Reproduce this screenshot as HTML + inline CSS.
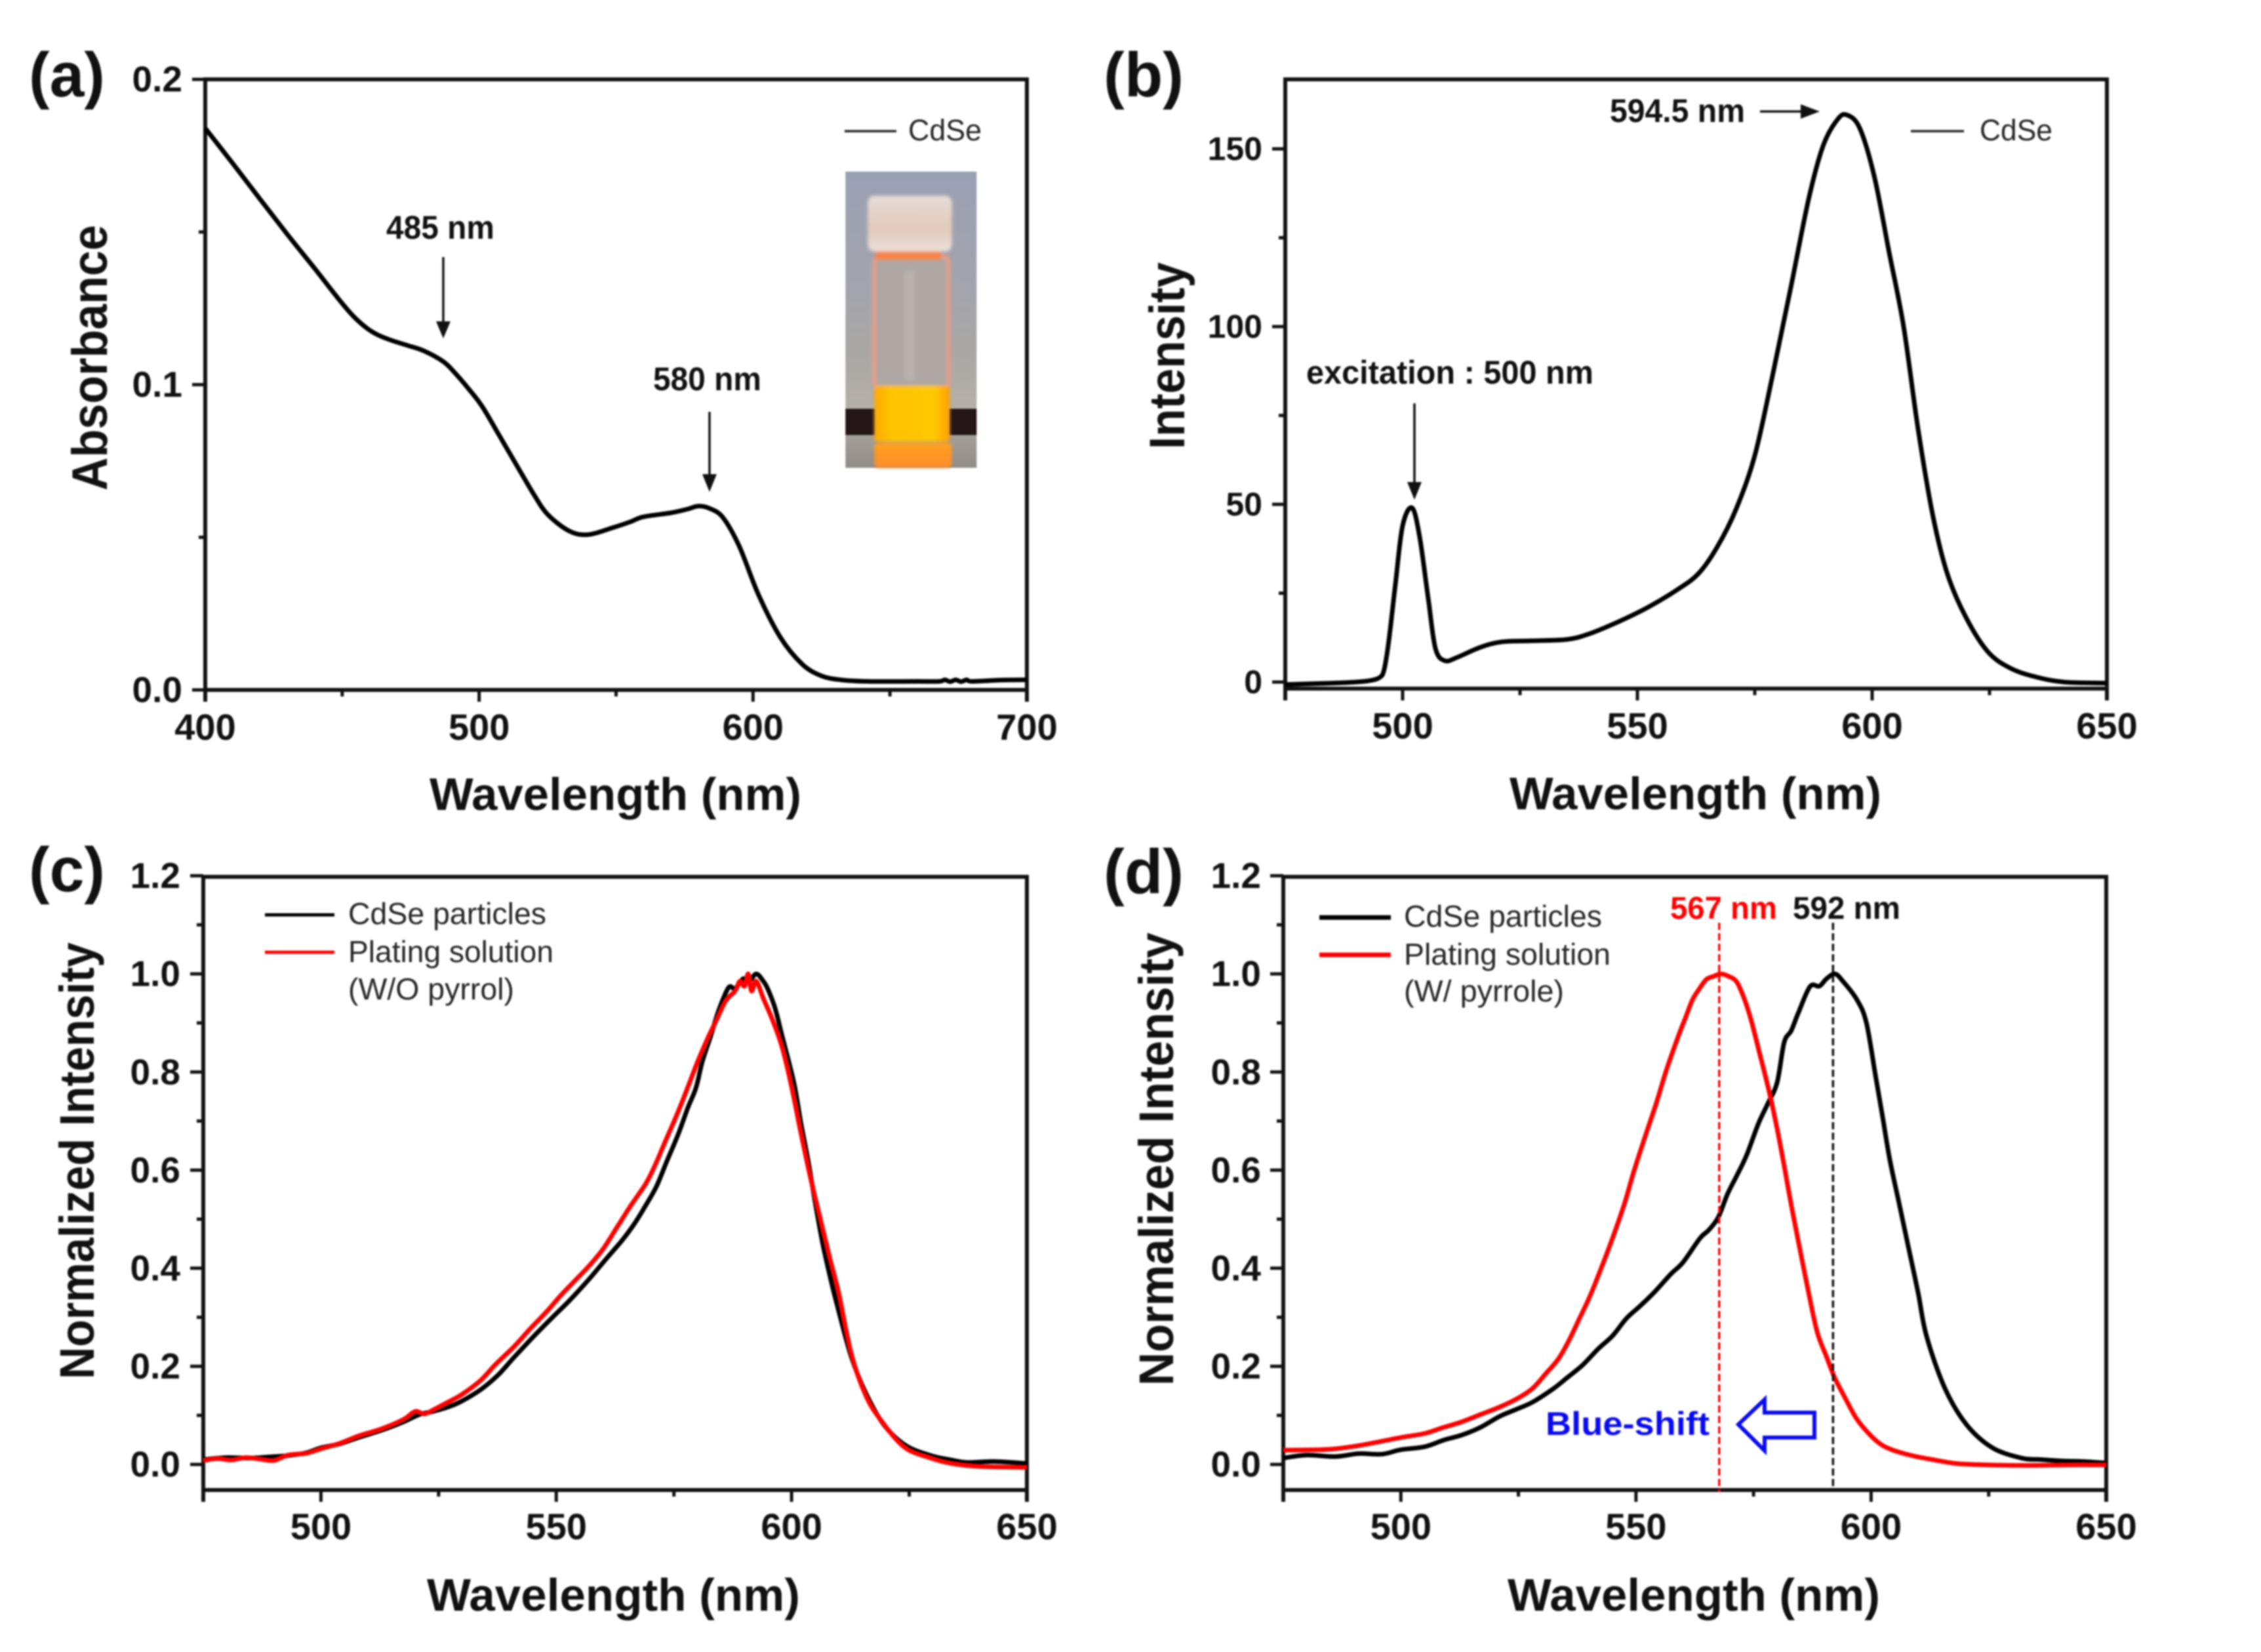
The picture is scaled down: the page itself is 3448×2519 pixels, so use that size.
<!DOCTYPE html>
<html lang="en">
<head>
<meta charset="utf-8">
<title>CdSe absorbance and photoluminescence spectra</title>
<style>
html,body{margin:0;padding:0;background:#fff;width:3448px;height:2519px;overflow:hidden}
svg{display:block;filter:blur(1.3px)}
text{font-family:"Liberation Sans",Arial,sans-serif;fill:#111}
.b{font-weight:700}
.leg{fill:#262626}
</style>
</head>
<body>
<svg id="figure" xmlns="http://www.w3.org/2000/svg" width="3448" height="2519" viewBox="0 0 3448 2519">
  <rect x="0" y="0" width="3448" height="2519" fill="#fff"/>
  <defs>
    <linearGradient id="insetBg" x1="0" y1="0" x2="0" y2="1">
      <stop offset="0" stop-color="#9aa0b3"/><stop offset=".35" stop-color="#a2a4ad"/>
      <stop offset=".6" stop-color="#a9a7a5"/><stop offset=".8" stop-color="#b4afa8"/><stop offset="1" stop-color="#8f8b88"/>
    </linearGradient>
    <linearGradient id="capFill" x1="0" y1="0" x2="0" y2="1">
      <stop offset="0" stop-color="#e6dcd6"/><stop offset=".6" stop-color="#e2c9bb"/><stop offset="1" stop-color="#eadfd8"/>
    </linearGradient>
    <linearGradient id="liquidFill" x1="0" y1="0" x2="1" y2="0">
      <stop offset="0" stop-color="#ffa800"/><stop offset=".2" stop-color="#ffc200"/><stop offset=".8" stop-color="#ffc800"/><stop offset="1" stop-color="#ff9f00"/>
    </linearGradient>
    <linearGradient id="reflectFill" x1="0" y1="0" x2="0" y2="1">
      <stop offset="0" stop-color="#ffa020"/><stop offset="1" stop-color="#ff8c28"/>
    </linearGradient>
    <filter id="soft" x="-5%" y="-5%" width="110%" height="110%"><feGaussianBlur stdDeviation="7"/></filter>
    <filter id="softer" x="-10%" y="-10%" width="120%" height="120%"><feGaussianBlur stdDeviation="14"/></filter>
  </defs>

  <!-- Panel a -->
  <g id="panel-a">
    <text class="b" x="44" y="147" font-size="96" textLength="116" lengthAdjust="spacingAndGlyphs">(a)</text>
    <text class="b" x="655" y="1235" font-size="70" textLength="567" lengthAdjust="spacingAndGlyphs">Wavelength (nm)</text>
    <text class="b" transform="translate(163,748) rotate(-90)" font-size="76" textLength="405" lengthAdjust="spacingAndGlyphs">Absorbance</text>
    <g transform="translate(1270,240) scale(0.3333)">
      <rect x="58" y="65" width="600" height="1355" fill="url(#insetBg)"/>
      <rect x="58" y="1150" width="135" height="120" fill="#241516"/>
      <rect x="533" y="1150" width="125" height="120" fill="#241516"/>
      <g filter="url(#soft)">
        <rect x="190" y="450" width="340" height="610" rx="30" fill="#aea7a3" stroke="#ee9c82" stroke-width="16"/>
        <rect x="195" y="410" width="300" height="60" fill="#f5854a"/>
        <rect x="160" y="175" width="385" height="255" rx="30" fill="url(#capFill)"/>
        <rect x="190" y="1045" width="345" height="255" rx="14" fill="url(#liquidFill)"/>
        <rect x="190" y="1305" width="355" height="115" rx="20" fill="url(#reflectFill)"/>
      </g>
      <g filter="url(#softer)">
        <rect x="330" y="520" width="45" height="500" fill="#bab3b0"/>
      </g>
    </g>
    <line x1="1288" y1="200" x2="1367" y2="200" stroke="#222" stroke-width="3.5"/>
    <text class="leg" x="1385" y="214" font-size="45" textLength="112" lengthAdjust="spacingAndGlyphs">CdSe</text>
    <text class="b" x="589" y="364" font-size="50" textLength="165" lengthAdjust="spacingAndGlyphs">485 nm</text>
    <line x1="676" y1="392" x2="676" y2="500" stroke="#111" stroke-width="3.5"/>
    <polygon points="665,490 687,490 676,516" fill="#111"/>
    <text class="b" x="996" y="595" font-size="50" textLength="165" lengthAdjust="spacingAndGlyphs">580 nm</text>
    <line x1="1082" y1="628" x2="1082" y2="733" stroke="#111" stroke-width="3.5"/>
    <polygon points="1071,723 1093,723 1082,750" fill="#111"/>
  </g>

  <!-- Panel b -->
  <g id="panel-b">
    <text class="b" x="1683" y="147" font-size="96" textLength="122" lengthAdjust="spacingAndGlyphs">(b)</text>
    <text class="b" x="2302" y="1234" font-size="70" textLength="567" lengthAdjust="spacingAndGlyphs">Wavelength (nm)</text>
    <text class="b" transform="translate(1806,685) rotate(-90)" font-size="76" textLength="285" lengthAdjust="spacingAndGlyphs">Intensity</text>
    <line x1="2914" y1="200" x2="2995" y2="200" stroke="#222" stroke-width="3.5"/>
    <text class="leg" x="3019" y="214" font-size="45" textLength="111" lengthAdjust="spacingAndGlyphs">CdSe</text>
    <text class="b" x="2455" y="186" font-size="50" textLength="206" lengthAdjust="spacingAndGlyphs">594.5 nm</text>
    <line x1="2684" y1="170" x2="2755" y2="170" stroke="#111" stroke-width="3.5"/>
    <polygon points="2746,159 2746,181 2775,170" fill="#111"/>
    <text class="b" x="1992" y="585" font-size="50" textLength="438" lengthAdjust="spacingAndGlyphs">excitation : 500 nm</text>
    <line x1="2157" y1="615" x2="2157" y2="745" stroke="#111" stroke-width="3.5"/>
    <polygon points="2146,735 2168,735 2157,762" fill="#111"/>
  </g>

  <!-- Panel c -->
  <g id="panel-c">
    <text class="b" x="44" y="1359" font-size="96" textLength="116" lengthAdjust="spacingAndGlyphs">(c)</text>
    <text class="b" x="651" y="2456" font-size="70" textLength="569" lengthAdjust="spacingAndGlyphs">Wavelength (nm)</text>
    <text class="b" transform="translate(143,2103) rotate(-90)" font-size="74" textLength="666" lengthAdjust="spacingAndGlyphs">Normalized Intensity</text>
    <line x1="404" y1="1395" x2="510" y2="1395" stroke="#000" stroke-width="5"/>
    <line x1="404" y1="1452" x2="510" y2="1452" stroke="#f00" stroke-width="5"/>
    <text class="leg" x="531" y="1409" font-size="46" textLength="302" lengthAdjust="spacingAndGlyphs">CdSe particles</text>
    <text class="leg" x="531" y="1467" font-size="46" textLength="313" lengthAdjust="spacingAndGlyphs">Plating solution</text>
    <text class="leg" x="531" y="1524" font-size="46" textLength="253" lengthAdjust="spacingAndGlyphs">(W/O pyrrol)</text>
  </g>

  <!-- Panel d -->
  <g id="panel-d">
    <text class="b" x="1683" y="1362" font-size="96" textLength="122" lengthAdjust="spacingAndGlyphs">(d)</text>
    <text class="b" x="2299" y="2456" font-size="70" textLength="568" lengthAdjust="spacingAndGlyphs">Wavelength (nm)</text>
    <text class="b" transform="translate(1789,2113) rotate(-90)" font-size="74" textLength="691" lengthAdjust="spacingAndGlyphs">Normalized Intensity</text>
    <line x1="2012" y1="1399" x2="2121" y2="1399" stroke="#000" stroke-width="7"/>
    <line x1="2012" y1="1456" x2="2121" y2="1456" stroke="#f00" stroke-width="7"/>
    <text class="leg" x="2141" y="1413" font-size="46" textLength="302" lengthAdjust="spacingAndGlyphs">CdSe particles</text>
    <text class="leg" x="2141" y="1471" font-size="46" textLength="315" lengthAdjust="spacingAndGlyphs">Plating solution</text>
    <text class="leg" x="2141" y="1527" font-size="46" textLength="244" lengthAdjust="spacingAndGlyphs">(W/ pyrrole)</text>
    <text class="b" x="2547" y="1401" font-size="48" textLength="163" lengthAdjust="spacingAndGlyphs" style="fill:#f00">567 nm</text>
    <text class="b" x="2734" y="1401" font-size="48" textLength="164" lengthAdjust="spacingAndGlyphs">592 nm</text>
    <text class="b" x="2357" y="2188" font-size="50" textLength="250" lengthAdjust="spacingAndGlyphs" style="fill:#0a0aee">Blue-shift</text>
    <polygon points="2651,2172 2691,2134 2691,2154 2767,2154 2767,2192 2691,2192 2691,2212" fill="#fff" stroke="#0a0aee" stroke-width="6"/>
  </g>
</svg>

<script>
// Panel a: absorbance
const aWavelengths = [400,410,420,430,440,449,454,459,463,468,474,480,487,491,496,501,507,515,520,525,533,540,549,555,560,570,576,580,584,589,595,602,610,618,625,632,642,660,668,670,672,674,676,678,680,690,700];
const aAbsorbance  = [.184,.1725,.1608,.1492,.138,.1277,.1225,.1185,.1163,.1145,.1128,.111,.1075,.104,.0988,.093,.0839,.0716,.064,.0575,.052,.0509,.0532,.055,.0567,.058,.0592,.0602,.0595,.0565,.047,.0312,.0172,.0084,.0046,.0033,.0028,.0028,.0028,.0033,.0027,.0033,.0027,.0033,.0028,.0032,.0033];
const aXTicks = [400,500,600,700];
const aXMinor = [450,550,650];
const aYTickLabels = ['0.0','0.1','0.2'];
const aYMinor = [.05,.15];

// Panel b: emission intensity
const bWavelengths = [475,485,490,493,495,496,497,498.5,500,502,503.6,505.5,507,509,511.7,516.4,521,527.3,535,539.8,546,552.2,558.5,563,567,571,575,578.8,582.6,586.5,589.6,592.7,594.7,597.4,600.5,603.6,606.7,609.8,612.9,616,619.9,624.6,629.3,634.7,640.9,650];
const bIntensity   = [-.7,-.3,0,.4,1.2,3.2,11,28,44,49,41,23,9.4,6,7,9.7,11.3,11.6,12,13.6,17,21,26,30.5,38,48.6,63.7,86.3,110.5,136,151,158.4,159.5,155.7,142,121,100,71,47,30.5,18.4,8.6,4,1.5,0,-.3];
const bXTicks = [500,550,600,650];
const bXMinor = [475,525,575,625];
const bYTickLabels = ['0','50','100','150'];
const bYMinor = [25,75,125];

// Panel c: normalized spectra without pyrrol
const cBlackWave = [475,480,485,490,493,497,500,504,508,513,517.6,521,523.8,527,529.9,534,537.6,541,545.2,549,552.9,557,560.6,564,566.7,569,571.3,573.5,575.9,578,579.7,581,582.8,584.5,586.6,588,589.7,591,592.5,594,595,596.5,598,600.5,602,603.5,605,606.6,608,609.7,612.7,615.8,619.6,624.2,629.6,634,637.3,643,650];
const cBlackVal  = [.010,.014,.013,.016,.018,.024,.034,.042,.055,.07,.087,.102,.108,.117,.129,.153,.182,.218,.261,.298,.335,.378,.419,.457,.492,.528,.567,.618,.673,.728,.768,.82,.873,.925,.972,.97,.99,.985,1.0,.985,.968,.93,.873,.778,.695,.62,.535,.451,.39,.324,.219,.145,.081,.039,.018,.009,.004,.006,.002];
const cRedWave   = [475,478,481,484,487,490,493,497,500,504,508,513,517.6,520,522,524,527,530,534,537,541,544.5,548,551,554,557,560,563,566,569,571,573,575.5,578,580,582,584,586,588,589,590,590.8,591.5,592.5,594,596,598,600,602,604,606,608,610,612.7,615.8,619,624,629.6,634,640,650];
const cRedVal    = [.008,.012,.009,.014,.011,.008,.019,.023,.032,.043,.058,.073,.092,.108,.103,.112,.127,.143,.172,.203,.24,.277,.312,.345,.375,.405,.44,.485,.53,.572,.61,.655,.71,.77,.82,.865,.905,.945,.965,.985,.975,1.0,.965,.985,.95,.905,.85,.77,.675,.585,.505,.425,.35,.225,.14,.09,.035,.013,.002,-.004,-.006];

// Panel d: normalized spectra with pyrrole
const dBlackWave = [475,480,486,491,496,500,505,509.2,513,517,521,524.7,528,532.5,535.5,538.7,542,545,548,551,554,557.4,560,563.6,565.5,567.5,569.5,571.4,573.5,576,578,580,581.5,583,584.5,587,589,590.5,592.3,594,597,599,601,602.5,604,606,608,610,611.8,615.7,620.3,625.8,632,636,641,645,650];
const dBlackVal  = [.013,.019,.016,.022,.021,.03,.036,.05,.06,.076,.098,.113,.127,.155,.178,.203,.236,.262,.298,.324,.352,.388,.412,.461,.478,.504,.552,.588,.63,.694,.735,.778,.86,.884,.92,.974,.975,.99,1.0,.985,.947,.9,.789,.705,.62,.53,.44,.35,.261,.155,.081,.034,.013,.01,.007,.006,.003];
const dRedWave   = [475,485,492,500,505,509.2,513,517,521,524.7,528,531,533.5,535.6,538,540.3,543,545,547.5,549.6,552,554.3,556.5,559,560.5,562,563.5,565,566.5,568,569.7,571.4,573,574.5,576.5,578.4,580,581.5,583,584.6,586.5,588.5,590.5,592.3,594.5,597,600,602.4,605,608.7,613,618,625,633.5,642,650];
const dRedVal    = [.029,.031,.04,.055,.063,.076,.087,.102,.117,.134,.155,.187,.215,.25,.298,.345,.41,.461,.53,.599,.67,.736,.805,.873,.91,.947,.97,.989,.995,1.0,.995,.984,.95,.905,.83,.757,.685,.609,.53,.451,.36,.271,.22,.176,.135,.092,.058,.039,.028,.018,.01,.002,-.001,-.002,-.001,-.001];
const dRedPeak = 567.7;
const dBlackPeak = 591.9;
const cdYTickLabels = ['0.0','0.2','0.4','0.6','0.8','1.0','1.2'];
const cdYMinor = [.1,.3,.5,.7,.9,1.1];
const cdXTicks = [500,550,600,650];
const cdXMinor = [475,525,575,625];

const NS = 'http://www.w3.org/2000/svg';

function linearScale(d0, d1, r0, r1) {
  return function (v) { return r0 + (v - d0) * (r1 - r0) / (d1 - d0); };
}

function drawLine(group, x1, y1, x2, y2, width, color, name) {
  const el = document.createElementNS(NS, 'line');
  
  
  el.setAttribute('x1', x1);
  el.setAttribute('y1', y1);
  el.setAttribute('x2', x2);
  el.setAttribute('y2', y2);
  el.setAttribute('stroke', color);
  el.setAttribute('stroke-width', width);
  group.appendChild(el);
  return el;
}

function drawText(group, x, y, str, size, anchor, name) {
  const el = document.createElementNS(NS, 'text');
  
  
  el.setAttribute('x', x);
  el.setAttribute('y', y);
  el.setAttribute('font-size', size);
  el.setAttribute('font-weight', '700');
  el.setAttribute('text-anchor', anchor);
  el.textContent = str;
  group.appendChild(el);
  return el;
}

function drawCurve(group, xs, ys, sx, sy, color, width, name) {
  const pts = xs.map(function (x, i) { return [sx(x), sy(ys[i])]; });
  let d = 'M' + pts[0][0].toFixed(1) + ' ' + pts[0][1].toFixed(1);
  for (let i = 0; i < pts.length - 1; i++) {
    const p0 = pts[Math.max(0, i - 1)], p1 = pts[i], p2 = pts[i + 1], p3 = pts[Math.min(pts.length - 1, i + 2)];
    const c1x = p1[0] + (p2[0] - p0[0]) / 6, c1y = p1[1] + (p2[1] - p0[1]) / 6;
    const c2x = p2[0] - (p3[0] - p1[0]) / 6, c2y = p2[1] - (p3[1] - p1[1]) / 6;
    d += 'C' + c1x.toFixed(1) + ' ' + c1y.toFixed(1) + ' ' + c2x.toFixed(1) + ' ' + c2y.toFixed(1) + ' ' + p2[0].toFixed(1) + ' ' + p2[1].toFixed(1);
  }
  const el = document.createElementNS(NS, 'path');
  
  
  el.setAttribute('d', d);
  el.setAttribute('fill', 'none');
  el.setAttribute('stroke', color);
  el.setAttribute('stroke-width', width);
  el.setAttribute('stroke-linejoin', 'round');
  group.appendChild(el);
  return el;
}

function drawAxes(id, box, sx, sy, xTicks, xMinor, yLabels, yMinor, yFont, yLabelEnd, xBase) {
  const g = document.getElementById(id);
  const color = '#111';
  const w = 6;
  drawLine(g, box.left, box.top - 3, box.left, box.bottom + 18, w, color, id + '-left-spine');
  drawLine(g, box.right, box.top - 3, box.right, box.bottom + 18, w, color, id + '-right-spine');
  drawLine(g, box.left - 3, box.top, box.right + 3, box.top, w, color, id + '-top-spine');
  drawLine(g, box.left - 3, box.bottom, box.right + 3, box.bottom, w, color, id + '-bottom-spine');
  xTicks.forEach(function (t) {
    drawLine(g, sx(t), box.bottom, sx(t), box.bottom + 18, w - 1, color, 'x-tick-' + t);
    drawText(g, sx(t), xBase, String(t), 56, 'middle', 'x-tick-label-' + t);
  });
  xMinor.forEach(function (t) {
    drawLine(g, sx(t), box.bottom, sx(t), box.bottom + 10, w - 1, color, 'x-minor-tick-' + t);
  });
  yLabels.forEach(function (lab) {
    const v = Number(lab);
    drawLine(g, box.left - 20, sy(v), box.left, sy(v), w - 1, color, 'y-tick-' + lab);
    drawText(g, yLabelEnd, sy(v) + yFont * 0.34, lab, yFont, 'end', 'y-tick-label-' + lab);
  });
  yMinor.forEach(function (v) {
    drawLine(g, box.left - 10, sy(v), box.left, sy(v), w - 1, color, 'y-minor-tick-' + v);
  });
  return g;
}

// Panel a
const boxA = {left: 313, right: 1566, top: 121, bottom: 1052};
const xA = linearScale(400, 700, boxA.left, boxA.right);
const yA = linearScale(0, 0.2, boxA.bottom, boxA.top);
const gA = drawAxes('panel-a', boxA, xA, yA, aXTicks, aXMinor, aYTickLabels, aYMinor, 55, 278, 1128);
drawCurve(gA, aWavelengths, aAbsorbance, xA, yA, '#000', 7, 'absorbance-curve');

// Panel b
const boxB = {left: 1960, right: 3213, top: 121, bottom: 1050};
const xB = linearScale(475, 650, boxB.left, boxB.right);
const yB = linearScale(0, 150, 1040, 227);
const gB = drawAxes('panel-b', boxB, xB, yB, bXTicks, bXMinor, bYTickLabels, bYMinor, 50, 1925, 1126);
drawCurve(gB, bWavelengths, bIntensity, xB, yB, '#000', 7, 'emission-curve');

// Panel c
const boxC = {left: 310, right: 1566, top: 1337, bottom: 2272};
const xC = linearScale(475, 650, boxC.left, boxC.right);
const yC = linearScale(0, 1, 2233, 1485);
const gC = drawAxes('panel-c', boxC, xC, yC, cdXTicks, cdXMinor, cdYTickLabels, cdYMinor, 55, 275, 2347);
drawCurve(gC, cBlackWave, cBlackVal, xC, yC, '#000', 7, 'cdse-particles-curve-c');
drawCurve(gC, cRedWave, cRedVal, xC, yC, '#f00', 7, 'plating-solution-curve-c');

// Panel d
const boxD = {left: 1957, right: 3212, top: 1337, bottom: 2272};
const xD = linearScale(475, 650, boxD.left, boxD.right);
const yD = linearScale(0, 1, 2233, 1485);
const gD = drawAxes('panel-d', boxD, xD, yD, cdXTicks, cdXMinor, cdYTickLabels, cdYMinor, 55, 1923, 2347);
drawCurve(gD, dBlackWave, dBlackVal, xD, yD, '#000', 7, 'cdse-particles-curve-d');
drawCurve(gD, dRedWave, dRedVal, xD, yD, '#f00', 7, 'plating-solution-curve-d');
const redPeakLine = drawLine(gD, xD(dRedPeak), 1407, xD(dRedPeak), 2275, 3.5, '#f00', 'peak-marker-567-nm');
redPeakLine.setAttribute('stroke-dasharray', '11 5');
const blackPeakLine = drawLine(gD, xD(dBlackPeak), 1407, xD(dBlackPeak), 2275, 3.5, '#111', 'peak-marker-592-nm');
blackPeakLine.setAttribute('stroke-dasharray', '11 5');
</script>
</body>
</html>
